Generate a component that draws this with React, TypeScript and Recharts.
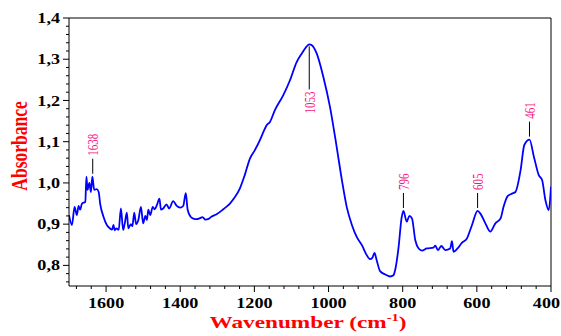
import React from 'react';
import { LineChart, Line, XAxis, YAxis, ReferenceLine, ReferenceDot } from 'recharts';

// FTIR spectrum, wavenumber (cm-1) going from 1700 down to 400
const wavenumbers = [
  1700, 1692, 1685, 1679, 1674, 1670, 1665, 1656, 1653, 1650, 1645, 1641, 1637, 1632, 1625, 1620,
  1616, 1607, 1598, 1590, 1584, 1580, 1577, 1572, 1566, 1560, 1554, 1550, 1544, 1540, 1533, 1529,
  1524, 1519, 1513, 1506, 1500, 1494, 1490, 1486, 1481, 1474, 1469, 1463, 1456, 1452, 1446, 1437,
  1430, 1419, 1410, 1400, 1392, 1385, 1380, 1372, 1363, 1355, 1348, 1340, 1332, 1325, 1316, 1302,
  1284, 1266, 1253, 1239, 1226, 1212, 1199, 1187, 1175, 1167, 1158, 1145, 1122, 1104, 1086, 1072,
  1060, 1052, 1045, 1032, 1014, 996, 978, 964, 951, 937, 924, 910, 899, 888, 882, 876,
  870, 861, 847, 834, 825, 820, 811, 803, 798, 789, 782, 775, 766, 757, 748, 735,
  717, 712, 705, 696, 685, 672, 667, 663, 652, 640, 627, 613, 598, 590, 577, 564,
  550, 536, 528, 517, 505, 496, 482, 472, 458, 446, 433, 424, 415, 406, 400,
];
const absorbance = [
  0.922, 0.898, 0.942, 0.922, 0.944, 0.935, 0.95, 0.954, 1.015, 0.983, 1.0, 0.978, 1.015, 0.983, 0.985, 0.978,
  0.95, 0.918, 0.898, 0.89, 0.887, 0.898, 0.885, 0.89, 0.886, 0.938, 0.886, 0.9, 0.928, 0.89, 0.9, 0.895,
  0.928, 0.9, 0.91, 0.942, 0.902, 0.92, 0.91, 0.935, 0.922, 0.942, 0.936, 0.946, 0.962, 0.935, 0.938, 0.948,
  0.938, 0.956, 0.945, 0.94, 0.944, 0.975, 0.935, 0.918, 0.913, 0.912, 0.914, 0.917, 0.911, 0.912, 0.918, 0.924,
  0.936, 0.95, 0.965, 0.987, 1.019, 1.059, 1.079, 1.1, 1.125, 1.14, 1.148, 1.176, 1.213, 1.249, 1.293, 1.314,
  1.33, 1.336, 1.334, 1.314, 1.257, 1.184, 1.087, 1.007, 0.942, 0.898, 0.869, 0.849, 0.828, 0.815, 0.818, 0.83,
  0.812, 0.786, 0.778, 0.773, 0.776, 0.79, 0.845, 0.915, 0.932, 0.906, 0.92, 0.914, 0.861, 0.841, 0.836, 0.841,
  0.843, 0.848, 0.837, 0.847, 0.837, 0.841, 0.859, 0.833, 0.841, 0.855, 0.865, 0.898, 0.932, 0.925, 0.902, 0.882,
  0.902, 0.914, 0.942, 0.968, 0.974, 0.978, 1.031, 1.092, 1.105, 1.063, 1.019, 1.007, 0.958, 0.934, 0.991,
];

const xMajorTicks = [1600, 1400, 1200, 1000, 800, 600, 400];
const yMajorTicks = [0.8, 0.9, 1.0, 1.1, 1.2, 1.3, 1.4];

const peakLabels = ['1638', '1053', '796', '605', '461'];
const peakX = [1636, 1052, 798, 598, 458];
const peakY = [1.015, 1.336, 0.932, 0.932, 1.105];

// minor ticks: 4 between each pair of majors
const xTicks: number[] = [];
for (let v = 1680; v >= 400; v -= 40) xTicks.push(v);
const yTicks: number[] = [];
for (let k = 76; k <= 140; k += 2) yTicks.push(k / 100);

const data = wavenumbers.map((wn, i) => ({ wn, abs: absorbance[i] }));

const serif = '"Liberation Serif", "Times New Roman", serif';
const pink = '#f5137f';

const renderXTick = (props: any) => {
  const { x, y, payload } = props;
  const major = xMajorTicks.includes(payload.value);
  // last label is pulled in so it stays inside the picture
  const last = payload.value === 400;
  return (
    <g>
      <line x1={x} x2={x} y1={y} y2={y + (major ? 6 : 3)} stroke="#000" />
      {major && (
        <text
          transform={`translate(${last ? x + 9 : x},${y + 22}) scale(1.25,1)`}
          textAnchor={last ? 'end' : 'middle'}
          fontFamily={serif}
          fontWeight="bold"
          fontSize={14.5}
          fill="#000"
        >
          {payload.value}
        </text>
      )}
    </g>
  );
};

const renderYTick = (props: any) => {
  const { x, y, payload } = props;
  const v = payload.value;
  const major = yMajorTicks.some((m) => Math.abs(m - v) < 1e-6);
  return (
    <g>
      <line x1={x} x2={x - (major ? 6 : 3)} y1={y} y2={y} stroke="#000" />
      {major && (
        <text
          transform={`translate(${x - 9},${y}) scale(1.25,1)`}
          textAnchor="end"
          dy="0.35em"
          fontFamily={serif}
          fontWeight="bold"
          fontSize={14.5}
          fill="#000"
        >
          {v.toFixed(1).replace('.', ',')}
        </text>
      )}
    </g>
  );
};

const renderPeak = (i: number) => (props: any) => {
  const { cx, cy } = props;
  const below = peakY[i] > 1.3;
  if (below) {
    return (
      <g>
        <line x1={cx} x2={cx} y1={cy + 2} y2={cy + 45} stroke="#000" />
        <text
          transform={`translate(${cx},${cy + 47}) scale(1.4,1) rotate(-90)`}
          textAnchor="end"
          dy="0.35em"
          fontFamily={serif}
          fontSize={11}
          fill={pink}
        >
          {peakLabels[i]}
        </text>
      </g>
    );
  }
  return (
    <g>
      <line x1={cx} x2={cx} y1={cy - 3} y2={cy - 18} stroke="#000" />
      <text
        transform={`translate(${cx},${cy - 21}) scale(1.4,1) rotate(-90)`}
        textAnchor="start"
        dy="0.35em"
        fontFamily={serif}
        fontSize={11}
        fill={pink}
      >
        {peakLabels[i]}
      </text>
    </g>
  );
};

const XTitle = (props: any) => {
  const vb = props.viewBox;
  return (
    <text
      transform={`translate(${vb.x + vb.width / 2 - 2},${vb.y + 42}) scale(1.33,1)`}
      textAnchor="middle"
      fontFamily={serif}
      fontWeight="bold"
      fontSize={17.5}
      fill="#ff0000"
    >
      Wavenumber (cm
      <tspan dy={-7} fontSize={11}>-1</tspan>
      <tspan dy={7}>)</tspan>
    </text>
  );
};

const YTitle = () => (
  <text
    transform="translate(19,146) scale(1.3,1) rotate(-90)"
    textAnchor="middle"
    dy="0.35em"
    fontFamily={serif}
    fontWeight="bold"
    fontSize={17.5}
    fill="#ff0000"
  >
    Absorbance
  </text>
);

export default function App() {
  return (
    <div style={{ position: 'absolute', left: 0, top: 0, background: '#fff' }}>
      <LineChart width={561} height={336} data={data} margin={{ top: 18, right: 10, bottom: 0, left: 0 }}>
        <XAxis
          dataKey="wn"
          type="number"
          domain={[400, 1700]}
          reversed
          allowDataOverflow
          ticks={xTicks}
          interval={0}
          tick={renderXTick}
          tickLine={false}
          tickSize={0}
          tickMargin={0}
          height={50}
          axisLine={{ stroke: '#000' }}
          label={{ content: (p: any) => <XTitle {...p} /> }}
        />
        <YAxis
          type="number"
          domain={[0.75, 1.4]}
          allowDataOverflow
          ticks={yTicks}
          interval={0}
          tick={renderYTick}
          tickLine={false}
          tickSize={0}
          tickMargin={0}
          width={69}
          axisLine={{ stroke: '#000' }}
          label={{ content: () => <YTitle /> }}
        />
        <ReferenceLine y={1.4} stroke="#000" />
        <ReferenceLine x={400} stroke="#000" />
        <Line
          dataKey="abs"
          type="monotone"
          stroke="#0000ff"
          strokeWidth={1.8}
          dot={false}
          isAnimationActive={false}
        />
        {peakLabels.map((lbl, i) => (
          <ReferenceDot key={lbl} x={peakX[i]} y={peakY[i]} r={0} shape={renderPeak(i)} />
        ))}
      </LineChart>
    </div>
  );
}
